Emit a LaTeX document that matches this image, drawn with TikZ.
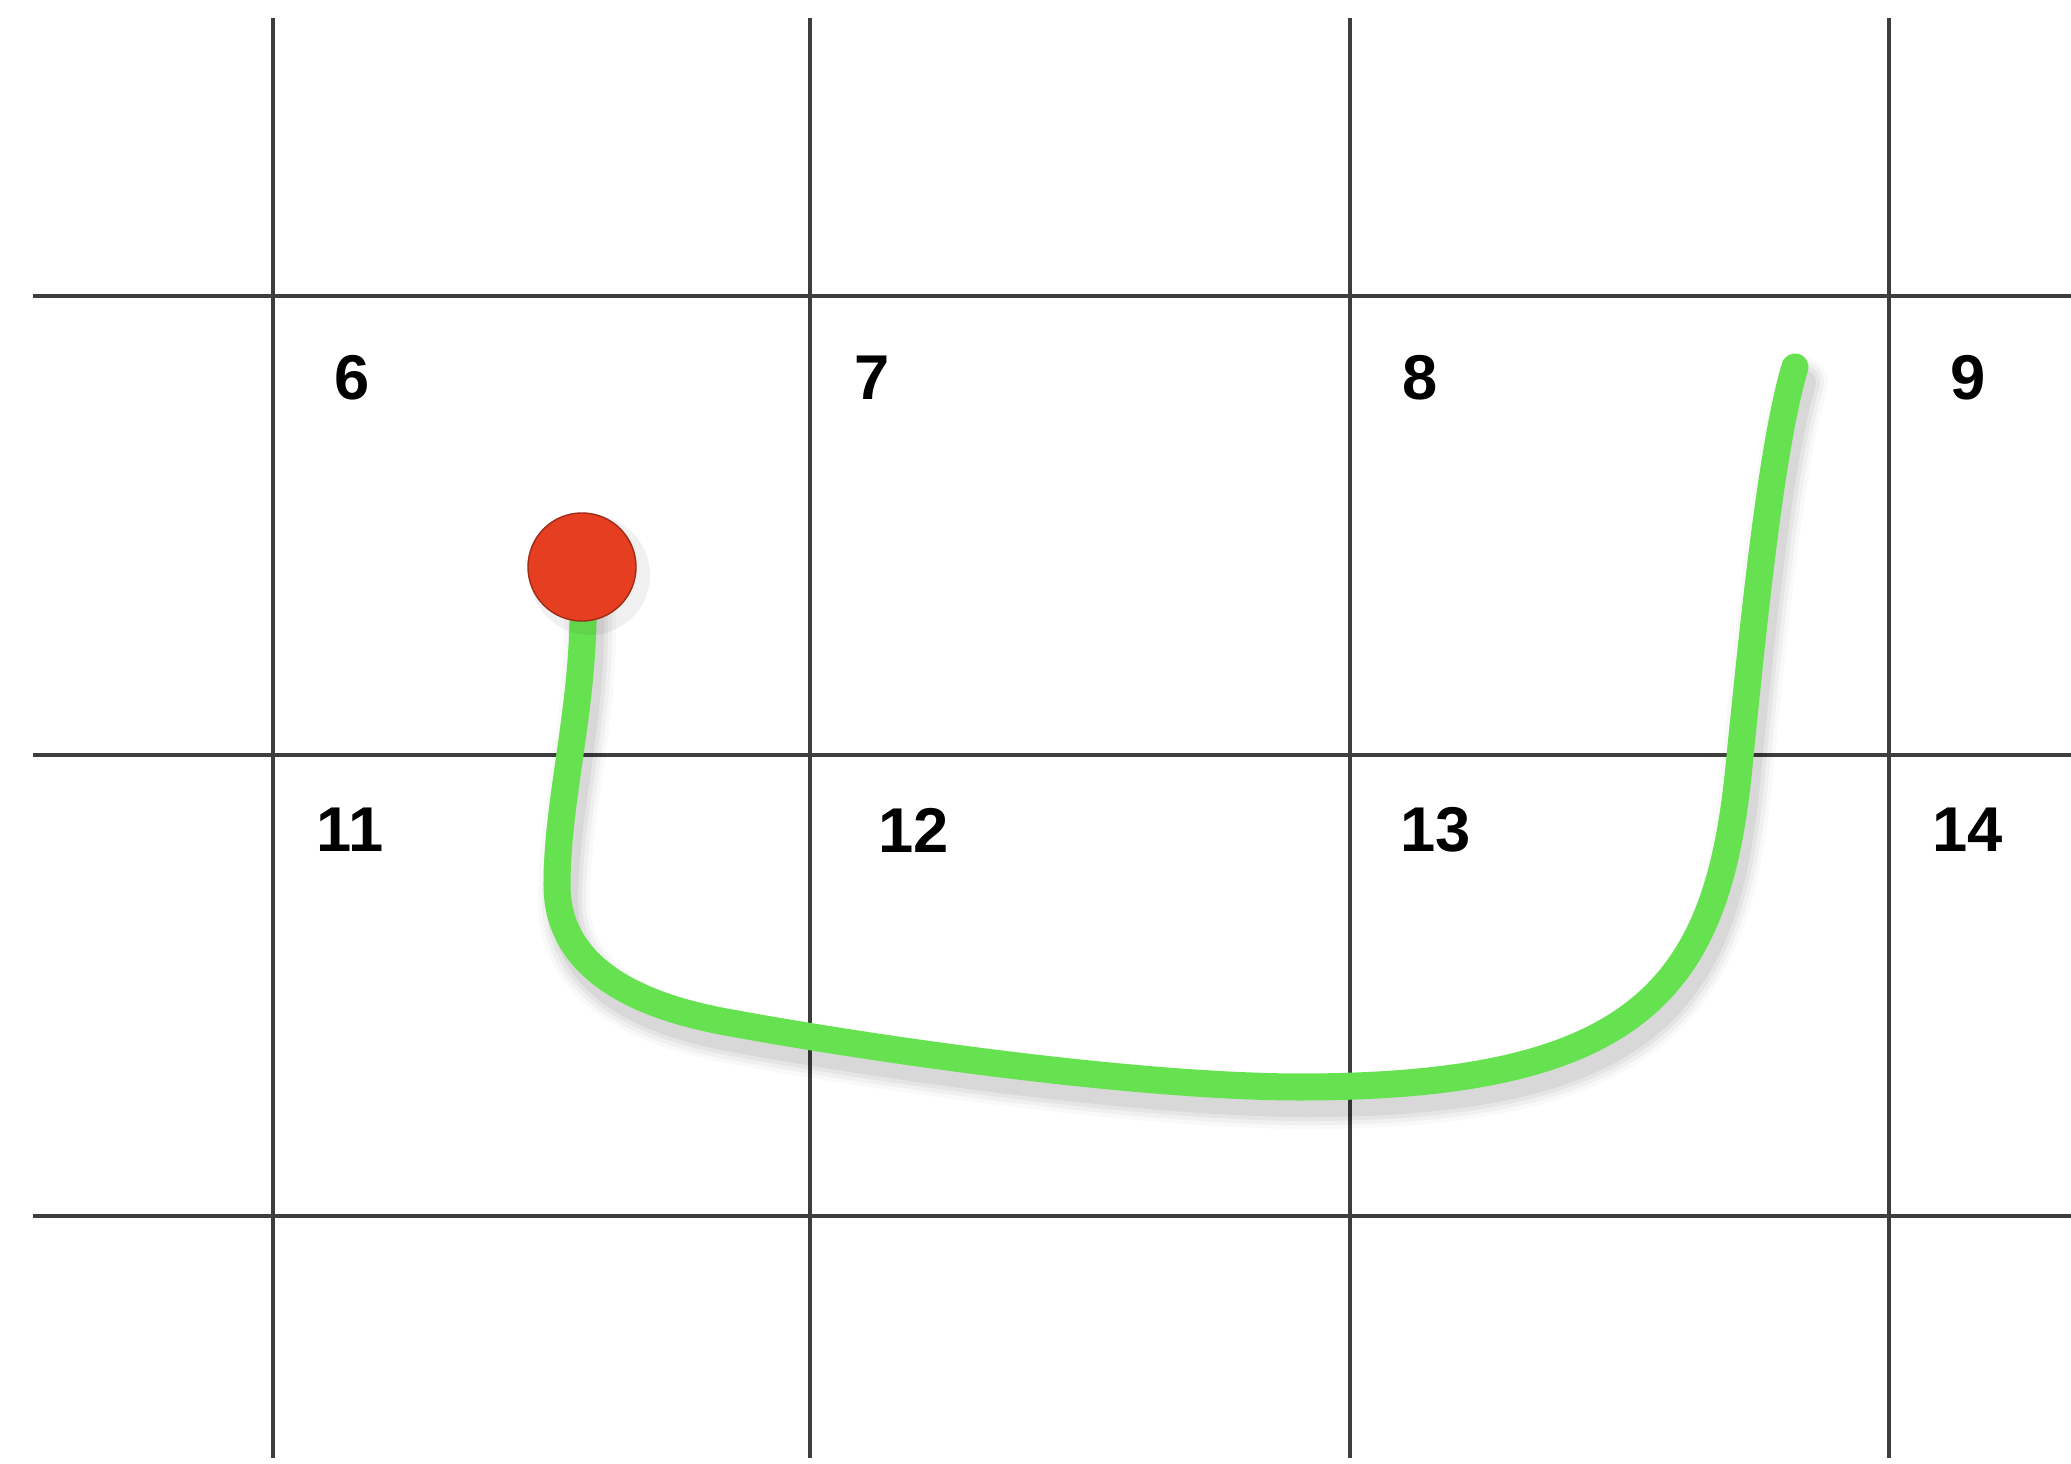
\documentclass[tikz,border=0pt]{standalone}
\usepackage{fontspec}
\setmainfont{Liberation Sans}
\definecolor{gridgray}{RGB}{62,62,62}
\definecolor{trailgreen}{RGB}{102,226,80}
\definecolor{dotred}{RGB}{229,62,33}
\begin{document}
\begin{tikzpicture}[x=0.01cm,y=-0.01cm,
  gridline/.style={line width=0.045cm, draw=gridgray},
  lbl/.style={font=\fontsize{18}{20}\selectfont\bfseries, inner sep=0pt, text=black, anchor=center},
  trail/.style={line width=0.27cm, draw=trailgreen, line cap=round},
  trailshadow/.style={draw=black, line cap=round},
  dotstyle/.style={circle, minimum size=1.08cm, inner sep=0pt, fill=dotred, draw=dotred!70!black, line width=0.4pt}]
\fill[white] (0,0) rectangle (2071,1464);
\useasboundingbox (0,0) rectangle (2071,1464);
% grid
\foreach \gx in {273,810,1350,1889} \draw[gridline] (\gx,18) -- (\gx,1458);
\foreach \gy in {296,755,1216} \draw[gridline] (33,\gy) -- (2071,\gy);
% labels
\node[lbl] (l6) at (352,378) {6};
\node[lbl] (l7) at (872,378) {7};
\node[lbl] (l8) at (1420,378) {8};
\node[lbl] (l9) at (1968,378) {9};
\node[lbl] (l11) at (350,830) {11};
\node[lbl] (l12) at (914,830) {12};
\node[lbl] (l13) at (1436,830) {13};
\node[lbl] (l14) at (1968,830) {14};
% dot position and trail coordinates
\coordinate (dotpos) at (582,567);
\coordinate (b) at (557,885);
\coordinate (c) at (726,1022);
\coordinate (d) at (1300,1087);
\coordinate (e) at (1740,756);
\coordinate (f) at (1795,367);
\def\trailpath{(dotpos) .. controls (590,690) and (557,790) .. (b) .. controls (557,975) and (650,1008) .. (c) .. controls (900,1054) and (1150,1087) .. (d) .. controls (1650,1087) and (1720,980) .. (e) .. controls (1752,640) and (1770,450) .. (f)}
% shadow
\begin{scope}[transform canvas={shift={(0.07cm,-0.16cm)}}]
  \draw[trailshadow, line width=0.52cm, opacity=0.025] \trailpath;
  \draw[trailshadow, line width=0.44cm, opacity=0.035] \trailpath;
  \draw[trailshadow, line width=0.36cm, opacity=0.045] \trailpath;
  \draw[trailshadow, line width=0.28cm, opacity=0.055] \trailpath;
\end{scope}
\draw[trail] \trailpath;
% dot
\fill[black, opacity=0.06] (590,575) circle (60);
\node[dotstyle] (dot) at (dotpos) {};
\end{tikzpicture}
\end{document}
